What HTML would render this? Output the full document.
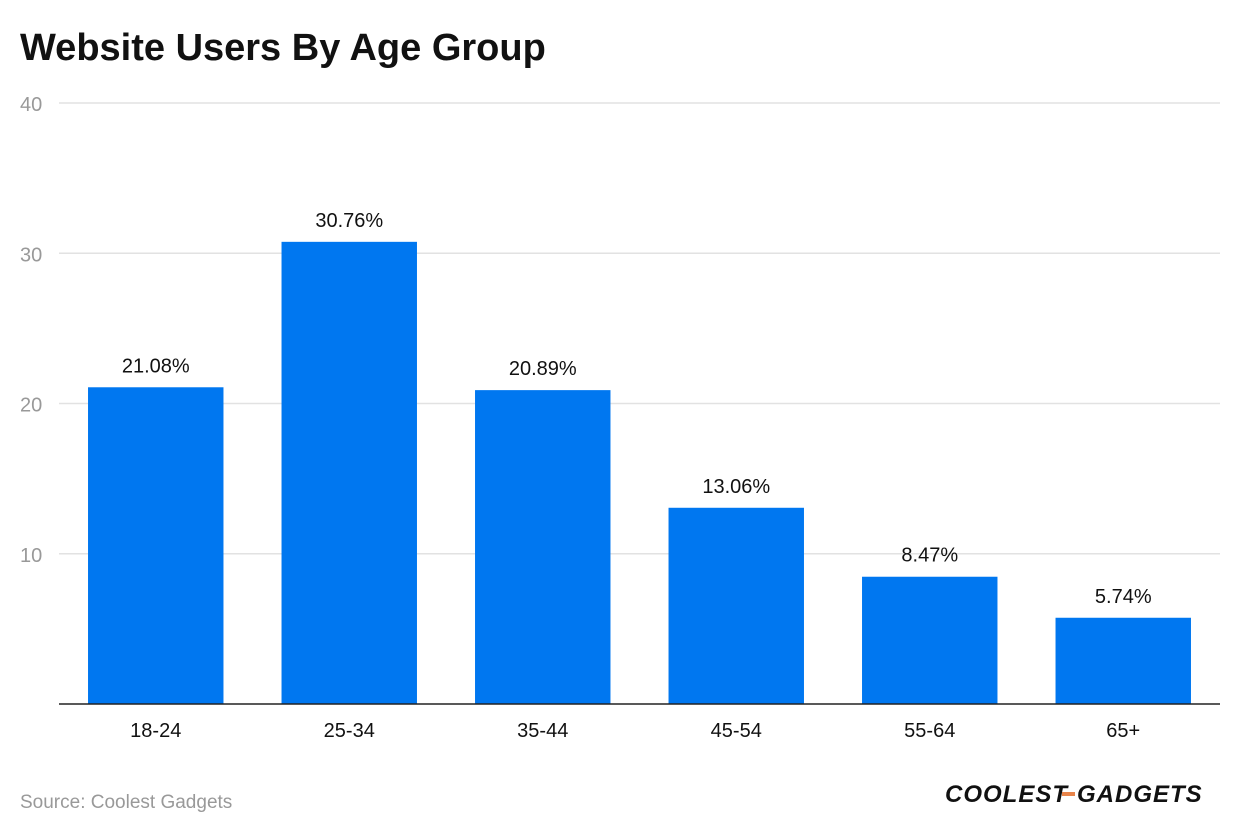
<!DOCTYPE html>
<html><head><meta charset="utf-8"><style>
body{margin:0;background:#fff;font-family:"Liberation Sans",sans-serif;}
</style></head><body>
<svg width="1240" height="834" xmlns="http://www.w3.org/2000/svg">
<text x="20" y="60" font-size="38" font-weight="bold" fill="#111">Website Users By Age Group</text>
<g id="grid"></g><g id="bars"></g>
<text x="20" y="808" font-size="19" fill="#999">Source: Coolest Gadgets</text>
<g>
<text x="945" y="802" font-size="24" font-weight="bold" font-style="italic" fill="#111" letter-spacing="1">COOLEST</text>
<rect x="1062" y="792" width="13" height="4" fill="#e8844a"/>
<text x="1077" y="802" font-size="24" font-weight="bold" font-style="italic" fill="#111" letter-spacing="1">GADGETS</text>
</g>
</svg>
<script>
const categories=["18-24","25-34","35-44","45-54","55-64","65+"];
const values=[21.08,30.76,20.89,13.06,8.47,5.74];
const labels=["21.08%","30.76%","20.89%","13.06%","8.47%","5.74%"];
const ticks=[10,20,30,40];
const NS="http://www.w3.org/2000/svg";
const x0=59,x1=1220,y0=704,yTop=103,maxV=40;
const y=v=>y0-(y0-yTop)*v/maxV;
const band=(x1-x0)/categories.length;
const g=document.getElementById('grid'),b=document.getElementById('bars');
function mk(t,a,p){const e=document.createElementNS(NS,t);for(const k in a)e.setAttribute(k,a[k]);p.appendChild(e);return e;}
ticks.forEach(t=>{
const l=mk('line',{x1:x0,x2:x1,y1:y(t),y2:y(t),stroke:'#e2e2e2','stroke-width':1.5},g);


const tx=mk('text',{x:20,y:y(t)+8,'font-size':20,fill:'#999'},g);tx.textContent=t;


});
categories.forEach((c,i)=>{
const cx=x0+band*(i+0.5),w=band*0.7;
const r=mk('rect',{x:cx-w/2,y:y(values[i]),width:w,height:y0-y(values[i]),fill:'#0077f0'},b);


const v=mk('text',{x:cx,y:y(values[i])-15,'font-size':20,fill:'#111','text-anchor':'middle'},b);v.textContent=labels[i];


const xl=mk('text',{x:cx,y:737,'font-size':20,fill:'#111','text-anchor':'middle'},b);xl.textContent=c;


});
const ax=mk('line',{x1:x0,x2:x1,y1:y0,y2:y0,stroke:'#222','stroke-width':1.5},b);


</script>
</body></html>
